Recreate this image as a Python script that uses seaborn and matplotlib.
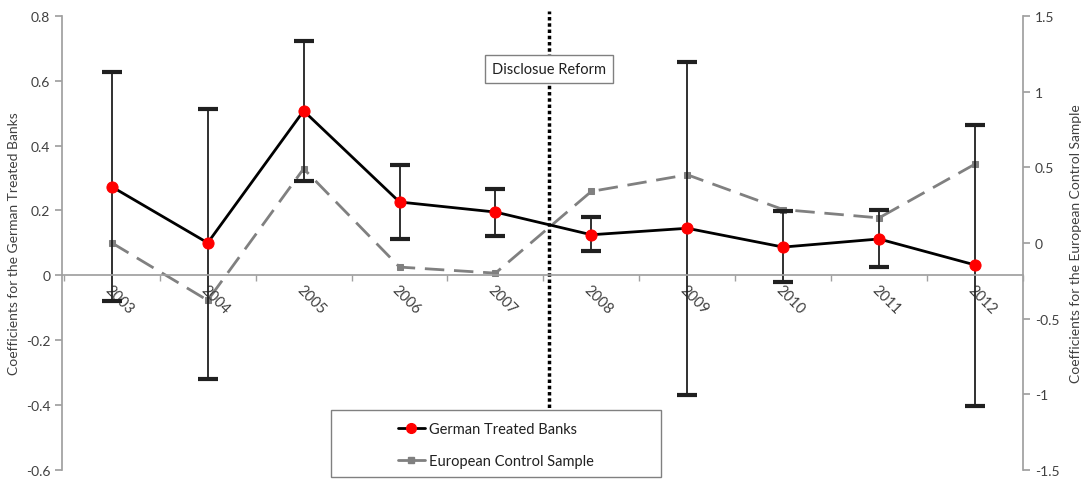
import numpy as np
import pandas as pd
import seaborn as sns
import matplotlib.pyplot as plt
from matplotlib.lines import Line2D
from matplotlib.patches import Rectangle
from matplotlib.ticker import FuncFormatter, MultipleLocator

# data
years = ['2003', '2004', '2005', '2006', '2007', '2008', '2009', '2010', '2011', '2012']
german = [0.273, 0.100, 0.507, 0.226, 0.195, 0.125, 0.145, 0.087, 0.112, 0.032]
german_hi = [0.627, 0.514, 0.723, 0.340, 0.267, 0.180, 0.658, 0.199, 0.200, 0.463]
german_lo = [-0.078, -0.320, 0.291, 0.112, 0.122, 0.075, -0.368, -0.020, 0.026, -0.402]
european = [0.00, -0.38, 0.49, -0.16, -0.20, 0.34, 0.45, 0.22, 0.165, 0.52]
reform_pos = 4.56  # between 2007 and 2008

sns.set_theme(style='white')
plt.rcParams['font.family'] = ['Lato', 'DejaVu Sans']

df = pd.DataFrame({'year': years, 'pos': np.arange(len(years)),
                   'german': german, 'european': european})

fig = plt.figure(figsize=(10.87, 4.81), dpi=100)
ax = fig.add_axes([0.057, 0.021, 0.884, 0.944])
ax2 = ax.twinx()
ax.set_zorder(ax2.get_zorder() + 1)
ax.patch.set_visible(False)

gray = '#808080'
txt = '#404040'

# European control sample on right axis
sns.lineplot(data=df, x='pos', y='european', ax=ax2, color=gray, lw=2,
             linestyle=(0, (7, 3.5)), marker='s', markersize=5,
             markeredgecolor=gray, legend=False)

# German treated banks with error bars
err = [df['german'] - np.array(german_lo), np.array(german_hi) - df['german']]
ax.errorbar(df['pos'], df['german'], yerr=err, fmt='none', ecolor='#202020',
            elinewidth=1.3, capsize=7, capthick=3)
sns.lineplot(data=df, x='pos', y='german', ax=ax, color='black', lw=2,
             marker='o', markersize=8, markerfacecolor='red',
             markeredgecolor='red', legend=False)

ax.set_xlim(-0.52, 9.49)
ax.set_ylim(-0.6, 0.8)
ax2.set_ylim(-1.5, 1.5)

# x axis sits at zero
for s in ['top', 'right']:
    ax.spines[s].set_visible(False)
ax.spines['bottom'].set_position(('data', 0))
ax.spines['bottom'].set_color('#a0a0a0')
ax.spines['left'].set_color('#a0a0a0')
ax.set_xticks(df['pos'])
ax.set_xticklabels(years, rotation=-45, ha='left', va='top',
                   rotation_mode='anchor', color=txt, fontsize=10.5)
ax.set_xticks(np.arange(-0.5, 9.6, 1), minor=True)
ax.tick_params(axis='x', which='major', length=0, pad=5)
ax.tick_params(axis='x', which='minor', length=4, direction='out',
               color='#a0a0a0', bottom=True)
ax.yaxis.set_major_locator(MultipleLocator(0.2))
ax.yaxis.set_major_formatter(FuncFormatter(lambda v, p: f'{v:.1f}'.rstrip('0').rstrip('.') if abs(v) > 1e-9 else '0'))
ax.tick_params(axis='y', length=5, color='#a0a0a0', labelcolor=txt,
               labelsize=10, left=True, direction='out')
ax.set_xlabel('')
ax.set_ylabel('Coefficients for the German Treated Banks', fontsize=10, color=txt)

for s in ['top', 'bottom', 'left']:
    ax2.spines[s].set_visible(False)
ax2.spines['right'].set_color('#a0a0a0')
ax2.yaxis.set_major_locator(MultipleLocator(0.5))
ax2.yaxis.set_major_formatter(FuncFormatter(lambda v, p: f'{v:g}' if abs(v) > 1e-9 else '0'))
ax2.tick_params(axis='y', length=5, color='#a0a0a0', labelcolor=txt,
                labelsize=10, right=True, direction='out')
ax2.set_ylabel('Coefficients for the European Control Sample', fontsize=10,
               color=txt, labelpad=8)
ax2.grid(False)
ax.grid(False)

# reform line and label
ax.axvline(reform_pos, ymin=0, ymax=1.01, color='black', lw=2.5,
           linestyle=(0, (1, 0.8)), clip_on=False)
ax.text(reform_pos, 0.636, 'Disclosue Reform', ha='center', va='center',
        fontsize=10.5, color='#202020',
        bbox=dict(boxstyle='square,pad=0.5', fc='white', ec=gray, lw=1))

# legend in a framed box at the bottom
box = Rectangle((331 / 1087, 1 - 478 / 481), 330 / 1087, 67 / 481,
                transform=fig.transFigure, fc='white', ec=gray, lw=1,
                clip_on=False, zorder=5)
ax.add_artist(box)
handles = [Line2D([], [], color='black', lw=2, marker='o', markersize=7,
                  markerfacecolor='red', markeredgecolor='red'),
           Line2D([], [], color=gray, lw=2, marker='s', markersize=5,
                  markeredgecolor=gray)]
leg = ax.legend(handles, ['German Treated Banks', 'European Control Sample'],
                loc='center', bbox_to_anchor=(496 / 1087, 1 - 446 / 481),
                bbox_transform=fig.transFigure, frameon=False, fontsize=10.5,
                handlelength=1.8, handletextpad=0.3, labelspacing=1.2,
                labelcolor='#202020')
leg.set_zorder(6)

fig.savefig('out.png', dpi=100)
